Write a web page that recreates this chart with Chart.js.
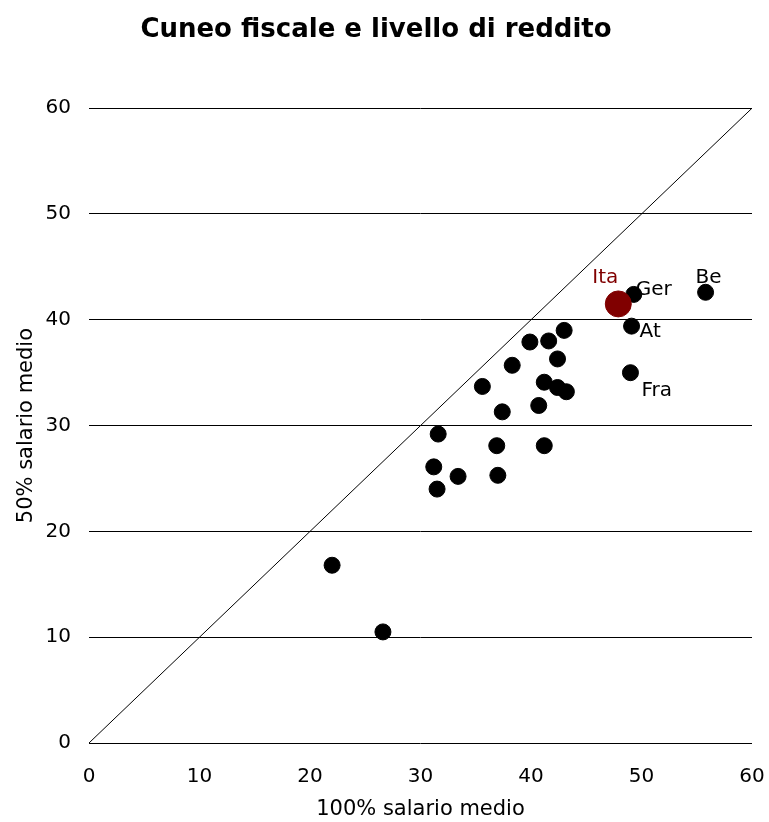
<!DOCTYPE html>
<html>
<head>
<meta charset="utf-8">
<script src="https://cdn.jsdelivr.net/npm/chart.js@4"></script>
<style>
  body { margin: 0; background: #fff; }
  canvas { display: block; }
</style>
</head>
<body>
<canvas id="grafico" width="769" height="822"></canvas>
<script>
// dati: cuneo fiscale al 100% e al 50% del salario medio
const paesi = ['', '', '', '', '', '', '', '', '', '', '', '', '', '', '', '', '', '', '', '', 'Ger', 'At', 'Fra', 'Be'];
const salario100 = [22.0, 26.6, 31.2, 31.5, 31.6, 33.4, 35.6, 36.9, 37.0, 37.4, 38.3, 39.9, 40.7, 41.2, 41.2, 41.6, 42.4, 42.4, 43.0, 43.2, 49.3, 49.1, 49.0, 55.8];
const salario50 = [16.8, 10.5, 26.1, 24.0, 29.2, 25.2, 33.7, 28.1, 25.3, 31.3, 35.7, 37.9, 31.9, 28.1, 34.1, 38.0, 36.3, 33.6, 39.0, 33.2, 42.4, 39.4, 35.0, 42.6];
const itaNome = ['Ita'];
const itaX = [47.9];
const itaY = [41.5];
const diagX = [0, 60];
const diagY = [0, 60];
const yTicks = [0, 10, 20, 30, 40, 50, 60];

const FONT = "'DejaVu Sans', Verdana, sans-serif";
const ROSSO = '#800000';

// posizione delle etichette rispetto al punto: dx, dy, allineamento
const posEtichette = {
  Ita: [-13, -26, 'center'],
  Ger: [2, -5, 'left'],
  At: [8, 6, 'left'],
  Fra: [11, 18, 'left'],
  Be: [3, -14, 'center']
};

const etichettePlugin = {
  id: 'etichette',
  afterDatasetsDraw(chart) {
    const ctx = chart.ctx;
    ctx.save();
    ctx.font = '20px ' + FONT;
    ctx.textBaseline = 'middle';
    chart.data.datasets.forEach((ds, i) => {
      if (!ds.nomi) return;
      const meta = chart.getDatasetMeta(i);
      meta.data.forEach((el, j) => {
        const nome = ds.nomi[j];
        if (!nome) return;
        const p = posEtichette[nome] || [6, -10, 'left'];
        ctx.fillStyle = ds.coloreTesto || '#000';
        ctx.textAlign = p[2];
        ctx.fillText(nome, el.x + p[0], el.y + p[1]);
      });
    });
    ctx.restore();
  }
};

new Chart(document.getElementById('grafico'), {
  type: 'scatter',
  data: {
    datasets: [
      {
        data: itaX.map((x, i) => ({ x: x, y: itaY[i] })),
        nomi: itaNome,
        coloreTesto: ROSSO,
        backgroundColor: ROSSO,
        borderColor: ROSSO,
        pointRadius: 13,
        pointHoverRadius: 13
      },
      {
        data: salario100.map((x, i) => ({ x: x, y: salario50[i] })),
        nomi: paesi,
        backgroundColor: '#000',
        borderColor: '#000',
        pointRadius: 8,
        pointHoverRadius: 8
      },
      {
        type: 'line',
        data: diagX.map((x, i) => ({ x: x, y: diagY[i] })),
        borderColor: '#000',
        borderWidth: 1,
        pointRadius: 0,
        fill: false
      }
    ]
  },
  options: {
    responsive: false,
    animation: false,
    layout: { padding: { left: 0, right: 17, top: 0, bottom: 0 } },
    plugins: {
      legend: { display: false },
      tooltip: { enabled: false },
      title: {
        display: true,
        text: 'Cuneo fiscale e livello di reddito',
        color: '#000',
        font: { family: FONT, size: 26, weight: 'bold' },
        padding: { top: 15, bottom: 62 }
      }
    },
    scales: {
      x: {
        type: 'linear',
        min: 0, max: 60,
        ticks: { stepSize: 10, color: '#000', font: { family: FONT, size: 20 }, padding: 22, maxRotation: 0 },
        grid: { display: false, drawTicks: false },
        border: { display: false },
        title: { display: true, text: '100% salario medio', color: '#000', font: { family: FONT, size: 21 }, padding: { top: 0, bottom: 0 } },
        afterFit(scale) {
          scale.height = 79;
          scale.paddingLeft = 0;
          scale.paddingRight = 0;
        }
      },
      y: {
        type: 'linear',
        min: 0, max: 60,
        afterBuildTicks(scale) { scale.ticks = yTicks.map(v => ({ value: v })); },
        ticks: { color: '#000', font: { family: FONT, size: 20 }, padding: 18 },
        grid: { color: '#000', lineWidth: 1, drawTicks: false },
        border: { display: false },
        title: { display: true, text: '50% salario medio', color: '#000', font: { family: FONT, size: 21 }, padding: { top: 14, bottom: 0 } },
        afterFit(scale) {
          scale.width = 89;
          scale.paddingTop = 0;
          scale.paddingBottom = 0;
        }
      }
    }
  },
  plugins: [etichettePlugin]
});
</script>
</body>
</html>
